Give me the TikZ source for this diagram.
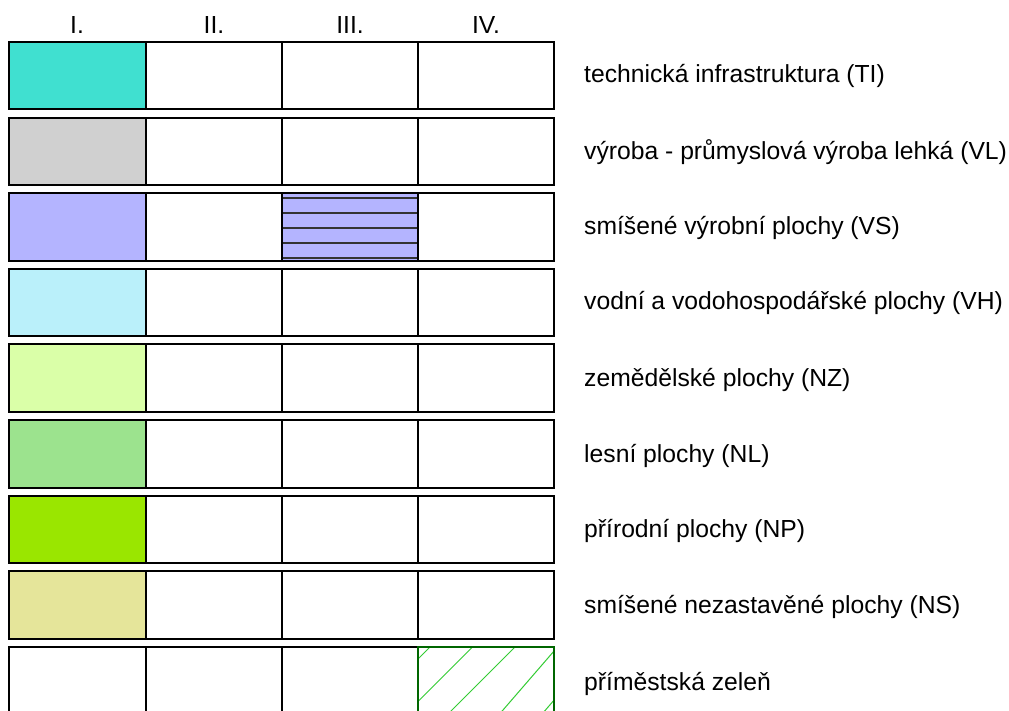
\documentclass[tikz,border=0pt]{standalone}
\usepackage{fontspec}
\setmainfont{Liberation Sans}
\definecolor{ti}{HTML}{40E0D0}
\definecolor{vl}{HTML}{D0D0D0}
\definecolor{vs}{HTML}{B4B4FF}
\definecolor{vh}{HTML}{BAF0FA}
\definecolor{nz}{HTML}{DAFFA8}
\definecolor{nl}{HTML}{9CE38E}
\definecolor{np}{HTML}{9AE600}
\definecolor{ns}{HTML}{E5E59A}
\definecolor{hatchgreen}{HTML}{33CC33}
\tikzset{
  cell/.style={draw=black, line width=1.6pt},
  lbl/.style={anchor=west, inner sep=0pt, font=\fontsize{24.7}{29}\selectfont},
  hdr/.style={inner sep=0pt, font=\fontsize{24.7}{29}\selectfont}
}
\begin{document}
\begin{tikzpicture}[x=1pt,y=-1pt]
  \useasboundingbox[fill=white] (0,0) rectangle (1009,711);

  % column headings
  \node[hdr] (h1) at (77,25) {I.};
  \node[hdr] (h2) at (214,25) {II.};
  \node[hdr] (h3) at (350,25) {III.};
  \node[hdr] (h4) at (486,25) {IV.};

  % TI
  \fill[ti] (9,42) rectangle (146,109);
  \draw[cell] (9,42) rectangle (554,109) (146,42) -- (146,109) (282,42) -- (282,109) (418,42) -- (418,109);
  \node[lbl] (lti) at (584,76) {technická infrastruktura (TI)};

  % VL
  \fill[vl] (9,118) rectangle (146,185);
  \draw[cell] (9,118) rectangle (554,185) (146,118) -- (146,185) (282,118) -- (282,185) (418,118) -- (418,185);
  \node[lbl] (lvl) at (584,152) {výroba - průmyslová výroba lehká (VL)};

  % VS
  \fill[vs] (9,193) rectangle (146,261);
  \fill[vs] (282,193) rectangle (418,261);
  \draw[black!80, line width=1.3pt] (282,198) -- (418,198) (282,213) -- (418,213)
    (282,228) -- (418,228) (282,243) -- (418,243) (282,258) -- (418,258);
  \draw[cell] (9,193) rectangle (554,261) (146,193) -- (146,261) (282,193) -- (282,261) (418,193) -- (418,261);
  \node[lbl] (lvs) at (584,228) {smíšené výrobní plochy (VS)};

  % VH
  \fill[vh] (9,269) rectangle (146,336);
  \draw[cell] (9,269) rectangle (554,336) (146,269) -- (146,336) (282,269) -- (282,336) (418,269) -- (418,336);
  \node[lbl] (lvh) at (584,303) {vodní a vodohospodářské plochy (VH)};

  % NZ
  \fill[nz] (9,344) rectangle (146,412);
  \draw[cell] (9,344) rectangle (554,412) (146,344) -- (146,412) (282,344) -- (282,412) (418,344) -- (418,412);
  \node[lbl] (lnz) at (584,380) {zemědělské plochy (NZ)};

  % NL
  \fill[nl] (9,420) rectangle (146,488);
  \draw[cell] (9,420) rectangle (554,488) (146,420) -- (146,488) (282,420) -- (282,488) (418,420) -- (418,488);
  \node[lbl] (lnl) at (584,456) {lesní plochy (NL)};

  % NP
  \fill[np] (9,496) rectangle (146,563);
  \draw[cell] (9,496) rectangle (554,563) (146,496) -- (146,563) (282,496) -- (282,563) (418,496) -- (418,563);
  \node[lbl] (lnp) at (584,531) {přírodní plochy (NP)};

  % NS
  \fill[ns] (9,571) rectangle (146,639);
  \draw[cell] (9,571) rectangle (554,639) (146,571) -- (146,639) (282,571) -- (282,639) (418,571) -- (418,639);
  \node[lbl] (lns) at (584,607) {smíšené nezastavěné plochy (NS)};

  % primestska zelen
  \begin{scope}
    \clip (418,647) rectangle (554,716);
    \draw[hatchgreen, line width=1pt] (418,659) -- (430,647) (418,701.5) -- (472.5,647)
      (418,744) -- (515,647) (461.5,758) -- (557.5,647) (504,758) -- (600,647);
  \end{scope}
  \draw[cell] (9,647) rectangle (418,716) (146,647) -- (146,716) (282,647) -- (282,716);
  \draw[cell, draw=green!40!black] (418,647) rectangle (554,716);
  \node[lbl] (lpz) at (584,684) {příměstská zeleň};
\end{tikzpicture}
\end{document}
